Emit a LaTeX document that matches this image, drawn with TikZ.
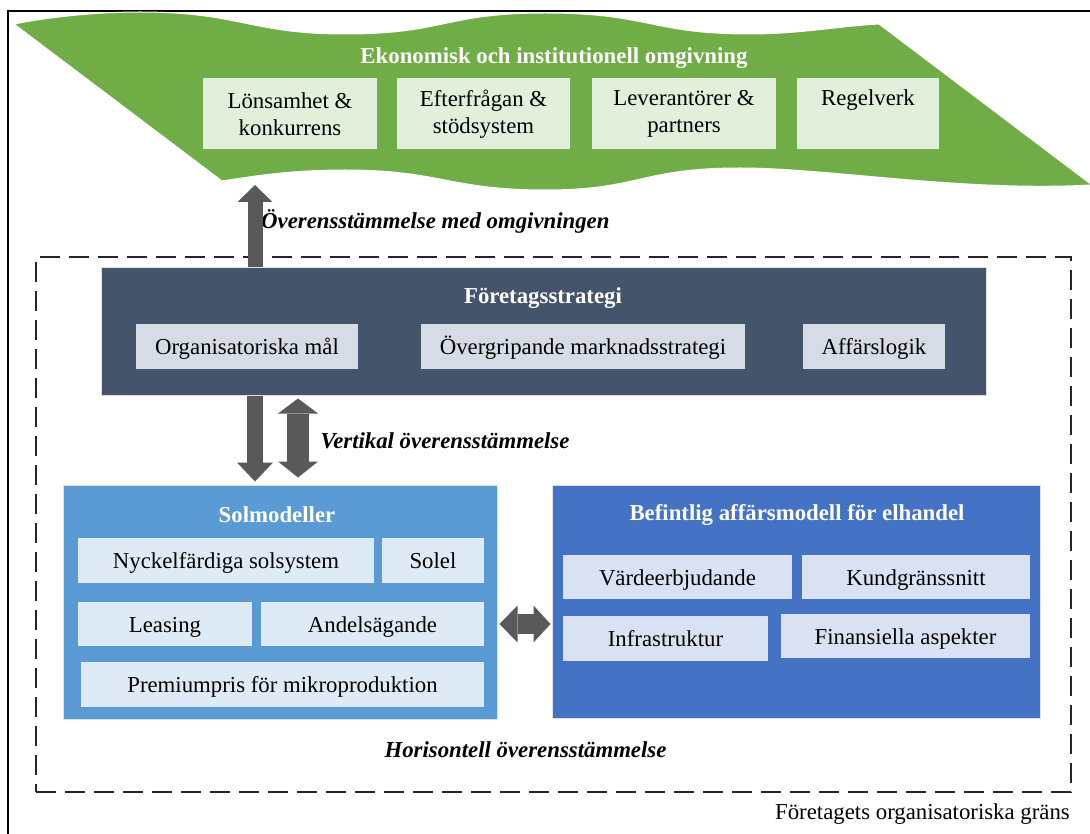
\documentclass[tikz,border=0pt]{standalone}
\usepackage{fontspec}
\setmainfont{Liberation Serif}
\usetikzlibrary{arrows.meta}
\definecolor{envgreen}{HTML}{70AD47}
\definecolor{envlight}{HTML}{E2EFDA}
\definecolor{stratdark}{HTML}{44546A}
\definecolor{stratlight}{HTML}{D6DCE5}
\definecolor{solblue}{HTML}{5B9BD5}
\definecolor{sollight}{HTML}{DEEBF7}
\definecolor{befblue}{HTML}{4472C4}
\definecolor{beflight}{HTML}{D9E2F3}
\definecolor{arrowgrey}{HTML}{595959}
\tikzset{
  base/.style={font=\fontsize{22.8}{27.5}\selectfont, inner sep=0pt},
  subbox/.style={base, rectangle, align=center, text=black},
  oneline/.style={text height=16pt, text depth=0pt},
  bigbox/.style={rectangle, inner sep=0pt, draw=black!12, line width=1pt},
  titletext/.style={base, text=white, font=\fontsize{22.8}{27.5}\selectfont\bfseries},
  labeltext/.style={base, font=\fontsize{22.8}{27.5}\selectfont\bfseries\itshape},
}
\begin{document}
\begin{tikzpicture}[x=1pt,y=-1pt]
\useasboundingbox (0,0) rectangle (1090,834);
% outer frame (cropped at right and bottom)
\draw[line width=2pt] (8,840) -- (8,11) -- (1095,11);

% environment banner
\path[fill=envgreen, draw=white, line width=1pt]
  (14,24) .. controls (50,17) and (95,12) .. (140,12)
  .. controls (240,12) and (250,34) .. (345,34)
  .. controls (445,34) and (445,13) .. (545,13)
  .. controls (650,13) and (650,34) .. (750,34)
  .. controls (800,34) and (840,26) .. (879,24)
  -- (1092,185)
  .. controls (960,192) and (830,168) .. (740,168)
  .. controls (640,168) and (640,190) .. (545,190)
  .. controls (450,190) and (440,170) .. (345,170)
  .. controls (290,170) and (255,176) .. (222,181) -- cycle;
\node[titletext] (envtitle) at (554,58) {Ekonomisk och institutionell omgivning};
\node[subbox, fill=envlight, minimum width=174pt, minimum height=71pt] (g1) at (290,114) {Lönsamhet \&\\konkurrens};
\node[subbox, fill=envlight, minimum width=173pt, minimum height=71pt] (g2) at (483.5,114) {Efterfrågan \&\\stödsystem};
\node[subbox, fill=envlight, minimum width=184pt, minimum height=71pt] (g3) at (684,114) {Leverantörer \&\\partners};
\node[subbox, fill=envlight, minimum width=142pt, minimum height=71pt] (g4) at (868,114) {Regelverk\\\phantom{p}};

\coordinate (envtip) at (255,185);
\node[labeltext, anchor=west] (envlabel) at (261,221) {Överensstämmelse med omgivningen};

% organisational boundary
\node[draw=black!85, line width=2.6pt, dash pattern=on 20pt off 9pt, rectangle, inner sep=0pt,
      minimum width=1035pt, minimum height=535pt] (orgbound) at (553.5,524.5) {};
\node[base, anchor=east] (orglabel) at (1070,814) {Företagets organisatoriska gräns};

% strategy
\node[bigbox, fill=stratdark, minimum width=885pt, minimum height=127pt] (strat) at (543.5,331.5) {};
\node[titletext] (strattitle) at (543,298) {Företagsstrategi};
\node[subbox, oneline, fill=stratlight, minimum width=222pt, minimum height=45pt] (s1) at (247,346.5) {Organisatoriska mål};
\node[subbox, oneline, fill=stratlight, minimum width=324pt, minimum height=45pt] (s2) at (583,346.5) {Övergripande marknadsstrategi};
\node[subbox, oneline, fill=stratlight, minimum width=142pt, minimum height=45pt] (s3) at (874,346.5) {Affärslogik};

% solar models
\node[bigbox, fill=solblue, minimum width=434pt, minimum height=234pt] (sol) at (280,602) {};
\node[titletext] (soltitle) at (277,515) {Solmodeller};
\node[subbox, oneline, fill=sollight, minimum width=296pt, minimum height=45pt] (m1) at (226,560.5) {Nyckelfärdiga solsystem};
\node[subbox, oneline, fill=sollight, minimum width=102pt, minimum height=45pt] (m2) at (433,560.5) {Solel};
\node[subbox, oneline, fill=sollight, minimum width=174pt, minimum height=44pt] (m3) at (165,624) {Leasing};
\node[subbox, oneline, fill=sollight, minimum width=223pt, minimum height=44pt] (m4) at (372.5,624) {Andelsägande};
\node[subbox, oneline, fill=sollight, minimum width=403pt, minimum height=45pt] (m5) at (282.5,684.5) {Premiumpris för mikroproduktion};

% existing business model
\node[bigbox, fill=befblue, minimum width=488pt, minimum height=233pt] (bef) at (796,601.5) {};
\node[titletext] (beftitle) at (797,515) {Befintlig affärsmodell för elhandel};
\node[subbox, oneline, fill=beflight, minimum width=229pt, minimum height=44pt] (b1) at (677.5,577) {Värdeerbjudande};
\node[subbox, oneline, fill=beflight, minimum width=228pt, minimum height=44pt] (b2) at (916,577) {Kundgränssnitt};
\node[subbox, oneline, fill=beflight, minimum width=205pt, minimum height=45pt] (b3) at (665.5,638.5) {Infrastruktur};
\node[subbox, oneline, fill=beflight, minimum width=249pt, minimum height=44pt] (b4) at (905.5,636) {Finansiella aspekter};

% labels
\node[labeltext] (vertlabel) at (445,441) {Vertikal överensstämmelse};
\node[labeltext] (horlabel) at (525.5,750) {Horisontell överensstämmelse};

% block arrows
\coordinate (downx) at (255,0);
\coordinate (dblx) at (298,0);
\coordinate (hory) at (0,624);
\draw[arrowgrey, line width=15pt, -{Triangle[length=17pt,width=35pt,line width=0pt]}]
  (strat.north -| envtip) -- (envtip);
\draw[arrowgrey, line width=16pt, shorten >=3pt, -{Triangle[length=19pt,width=36pt,line width=0pt]}]
  (strat.south -| downx) -- (sol.north -| downx);
\draw[arrowgrey, line width=22pt, shorten <=3pt, shorten >=7pt,
      {Triangle[length=15pt,width=40pt,line width=0pt]}-{Triangle[length=16pt,width=40pt,line width=0pt]}]
  (strat.south -| dblx) -- (sol.north -| dblx);
\draw[arrowgrey, line width=20pt, shorten <=2pt, shorten >=1pt,
      {Triangle[length=18pt,width=37pt,line width=0pt]}-{Triangle[length=17pt,width=37pt,line width=0pt]}]
  (sol.east |- hory) -- (bef.west |- hory);
\end{tikzpicture}
\end{document}
